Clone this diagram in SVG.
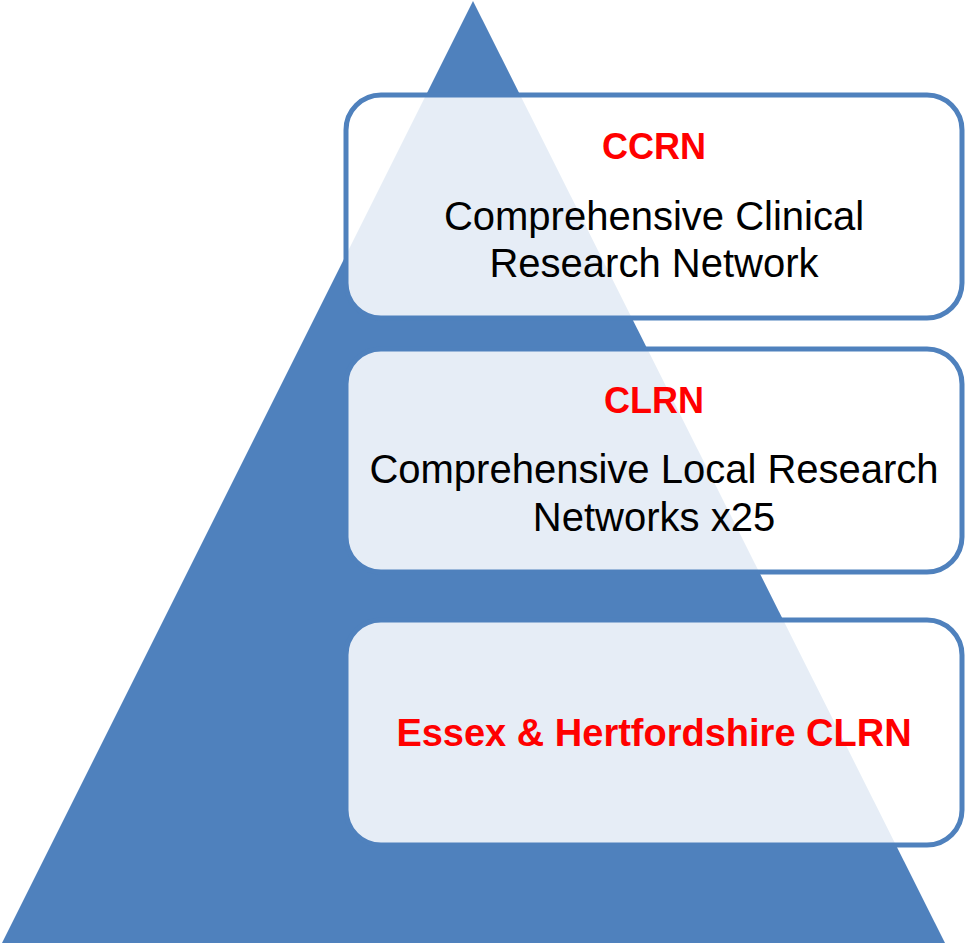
<svg xmlns="http://www.w3.org/2000/svg" width="965" height="944" viewBox="0 0 965 944">
  <style>
    .box { fill: #ffffff; fill-opacity: 0.86; stroke: #4F81BD; stroke-width: 5; }
    .head { font-family: "Liberation Sans", Arial, sans-serif; font-weight: bold; fill: #FF0000; text-anchor: middle; }
    .body { font-family: "Liberation Sans", Arial, sans-serif; font-size: 40px; fill: #000000; text-anchor: middle; }
  </style>
  <rect width="965" height="944" fill="#ffffff"/>
  <g id="pyramid">
    <polygon points="473,1 2,943 945,943" fill="#4F81BD"/>
  </g>
  <g id="connectors"></g>
  <g id="ccrn">
    <rect class="box" x="346" y="95" width="616" height="223" rx="35" ry="35"/>
    <text class="head" x="654" y="159" font-size="36">CCRN</text>
    <text class="body" x="654" y="230">Comprehensive Clinical</text>
    <text class="body" x="654" y="277">Research Network</text>
  </g>
  <g id="clrn">
    <rect class="box" x="346" y="349" width="616" height="223" rx="35" ry="35"/>
    <text class="head" x="654" y="413" font-size="36">CLRN</text>
    <text class="body" x="654" y="483">Comprehensive Local Research</text>
    <text class="body" x="654" y="531">Networks x25</text>
  </g>
  <g id="essex-herts">
    <rect class="box" x="346" y="620" width="616" height="225" rx="35" ry="35"/>
    <text class="head" x="654" y="746" font-size="38">Essex &amp; Hertfordshire CLRN</text>
  </g>
</svg>
